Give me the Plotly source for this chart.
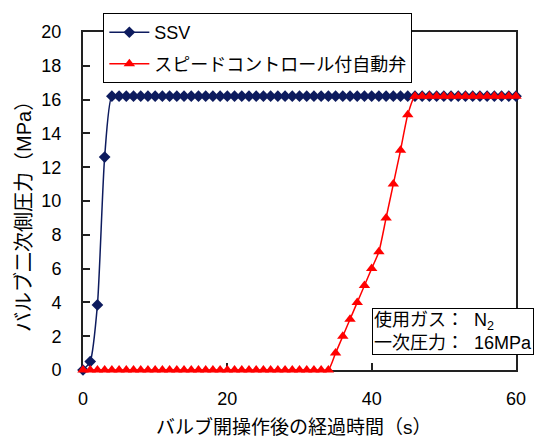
import plotly.graph_objects as go

# elapsed time after valve opening (s)
time_s = [0, 1, 2, 3, 4, 5, 6, 7, 8, 9, 10, 11, 12, 13, 14, 15, 16, 17, 18, 19, 20,
          21, 22, 23, 24, 25, 26, 27, 28, 29, 30, 31, 32, 33, 34, 35, 36, 37, 38, 39, 40,
          41, 42, 43, 44, 45, 46, 47, 48, 49, 50, 51, 52, 53, 54, 55, 56, 57, 58, 59, 60]

# downstream pressure (MPa) - SSV
ssv = [0.0, 0.5, 3.85, 12.6, 16.2, 16.2, 16.2, 16.2, 16.2, 16.2, 16.2,
       16.2, 16.2, 16.2, 16.2, 16.2, 16.2, 16.2, 16.2, 16.2, 16.2,
       16.2, 16.2, 16.2, 16.2, 16.2, 16.2, 16.2, 16.2, 16.2, 16.2,
       16.2, 16.2, 16.2, 16.2, 16.2, 16.2, 16.2, 16.2, 16.2, 16.2,
       16.2, 16.2, 16.2, 16.2, 16.2, 16.2, 16.2, 16.2, 16.2, 16.2,
       16.2, 16.2, 16.2, 16.2, 16.2, 16.2, 16.2, 16.2, 16.2, 16.2]

# downstream pressure (MPa) - automatic valve with speed control
speed_ctrl = [0.0, 0.0, 0.0, 0.0, 0.0, 0.0, 0.0, 0.0, 0.0, 0.0, 0.0,
              0.0, 0.0, 0.0, 0.0, 0.0, 0.0, 0.0, 0.0, 0.0, 0.0,
              0.0, 0.0, 0.0, 0.0, 0.0, 0.0, 0.0, 0.0, 0.0, 0.0,
              0.0, 0.0, 0.0, 0.0, 1.0, 2.0, 3.0, 4.0, 5.0, 6.0,
              7.0, 9.0, 11.0, 13.0, 15.1, 16.2, 16.2, 16.2, 16.2, 16.2,
              16.2, 16.2, 16.2, 16.2, 16.2, 16.2, 16.2, 16.2, 16.2, 16.2]

x_ticks = [0, 20, 40, 60]
y_ticks = [0, 2, 4, 6, 8, 10, 12, 14, 16, 18, 20]

# Latin glyphs in a sans face, Japanese falls back to Noto CJK
FONT = "Liberation Sans, Noto Sans CJK JP"
NAVY = "#0d1b5e"
RED = "#ff0000"
GAP = "\u00a0\u00a0"

fig = go.Figure()
fig.add_trace(go.Scatter(
    x=time_s, y=ssv, name="SSV", mode="lines+markers",
    line=dict(color=NAVY, width=1.5, shape="spline", smoothing=0.6),
    marker=dict(symbol="diamond", size=9, color=NAVY),
    cliponaxis=False, legendgroup="a"))
fig.add_trace(go.Scatter(
    x=time_s, y=speed_ctrl, name="スピードコントロール付自動弁", mode="lines+markers",
    line=dict(color=RED, width=1.5, shape="spline", smoothing=0.6),
    marker=dict(symbol="triangle-up", size=10, color=RED),
    cliponaxis=False, legendgroup="b"))

axis_common = dict(
    showline=True, linecolor="#222222", linewidth=2, mirror=True,
    ticks="inside", ticklen=7, tickcolor="#222222", tickwidth=1.5,
    showgrid=False, zeroline=False, layer="below traces",
    tickfont=dict(family=FONT, size=18, color="black"),
)

fig.update_xaxes(range=[0, 60], tickvals=x_ticks, ticklabelstandoff=11, **axis_common)
fig.update_yaxes(range=[0, 20], tickvals=y_ticks, ticklabelstandoff=16, **axis_common)

fig.update_layout(
    width=538, height=439,
    margin=dict(l=82.5, r=19, t=32, b=69),
    plot_bgcolor="white", paper_bgcolor="white",
    font=dict(family=FONT, size=18, color="black"),
    legend=dict(x=0.047, y=1.056, xanchor="left", yanchor="top",
                bordercolor="black", borderwidth=1, bgcolor="white",
                font=dict(family=FONT, size=18, color="black"),
                itemwidth=40, tracegroupgap=5, traceorder="grouped"),
    annotations=[
        dict(text="バルブ開操作後の経過時間（s）", xref="paper", yref="paper",
             x=0.487, y=-0.169, xanchor="center", yanchor="middle",
             showarrow=False, font=dict(family=FONT, size=19)),
        dict(text="バルブ二次側圧力（MPa）", xref="paper", yref="paper",
             x=-0.139, y=0.47, xanchor="center", yanchor="middle", textangle=-90,
             showarrow=False, font=dict(family=FONT, size=20)),
        dict(text="使用ガス：" + GAP + "N<sub>2</sub><br>一次圧力：" + GAP + "16MPa",
             xref="paper", yref="paper",
             x=(374 - 82.5) / 436.5, y=(370 - 308) / 338, xanchor="left", yanchor="top",
             align="left", showarrow=False, bgcolor="white", bordercolor="black",
             borderwidth=1, borderpad=1, font=dict(family=FONT, size=18)),
    ],
)

fig.write_html("out.html")
